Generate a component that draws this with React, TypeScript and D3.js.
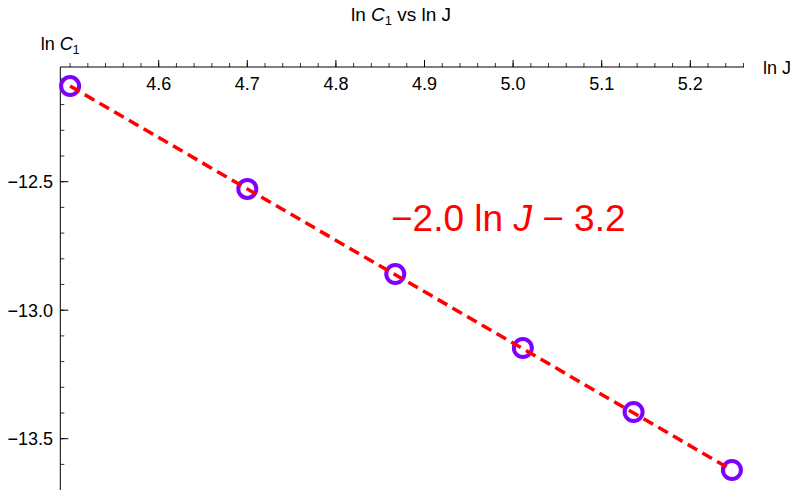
import React from 'react';
import * as d3 from 'd3';

// ln J and ln C1 values
const lnJ = [4.5, 4.7, 4.867, 5.011, 5.136, 5.247];
const lnC1 = [-12.128, -12.528, -12.859, -13.147, -13.396, -13.622];

// fitted line  ln C1 = slope * ln J + intercept
const fitSlope = -2.0;
const fitIntercept = -3.128;

const xMajor = [4.6, 4.7, 4.8, 4.9, 5.0, 5.1, 5.2];
const yMajor = [-12.5, -13.0, -13.5];

const W = 798;
const H = 494;
const FONT = '"Liberation Sans", Arial, sans-serif';

export default function App() {
    const x = d3.scaleLinear().domain([4.6, 5.2]).range([158.7, 690.3]);
    const y = d3.scaleLinear().domain([-12.5, -13.5]).range([181.7, 438.7]);

    const x0 = 60.3;
    const xEnd = 744;
    const y0 = 67;
    const yEnd = 490;

    const xMinor = d3.range(225, 264).map(i => i / 50).filter(v => x(v) <= xEnd + 0.5);
    const yMinor = d3.range(-137, -120).map(i => i / 10).filter(v => y(v) >= y0 + 4 && y(v) <= yEnd);

    const fmtY = (v: number) => '\u2212' + Math.abs(v).toFixed(1);

    const pts = lnJ.map((v, i) => [v, lnC1[i]] as [number, number]);
    const fitExt = d3.extent(lnJ) as [number, number];
    const line = d3.line<number>()
        .x(d => x(d))
        .y(d => y(fitSlope * d + fitIntercept));

    return (
        <svg width={W} height={H} style={{position: 'absolute', left: 0, top: 0, background: '#fff'}}
             fontFamily={FONT}>
            <rect width={W} height={H} fill="#fff" />
            {/* title */}
            <text x={401} y={21} textAnchor="middle" fontSize={19} fill="#000">
                ln <tspan fontStyle="italic">C</tspan><tspan fontSize={13} dy={4}>1</tspan><tspan dy={-4}> vs ln J</tspan>
            </text>

            {/* axes */}
            <line x1={x0} x2={xEnd} y1={y0} y2={y0} stroke="#000" strokeWidth={1} />
            <line x1={x0} x2={x0} y1={y0} y2={yEnd} stroke="#000" strokeWidth={1} />

            {xMinor.map(v => (
                <line key={'xm' + v} x1={x(v)} x2={x(v)} y1={y0} y2={y0 - 4} stroke="#000" strokeWidth={0.8} />
            ))}
            {xMajor.map(v => (
                <g key={'xM' + v}>
                    <line x1={x(v)} x2={x(v)} y1={y0} y2={y0 - 7} stroke="#000" strokeWidth={1} />
                    <text x={x(v)} y={90} textAnchor="middle" fontSize={18} fill="#000">{v.toFixed(1)}</text>
                </g>
            ))}
            {yMinor.map(v => (
                <line key={'ym' + v} x1={x0} x2={x0 + 4} y1={y(v)} y2={y(v)} stroke="#000" strokeWidth={0.8} />
            ))}
            {yMajor.map(v => (
                <g key={'yM' + v}>
                    <line x1={x0} x2={x0 + 8} y1={y(v)} y2={y(v)} stroke="#000" strokeWidth={1} />
                    <text x={53} y={y(v) + 6.5} textAnchor="end" fontSize={18} fill="#000">{fmtY(v)}</text>
                </g>
            ))}

            {/* axis labels */}
            <text x={60} y={50} textAnchor="middle" fontSize={18} fill="#000">
                ln <tspan fontStyle="italic">C</tspan><tspan fontSize={12} dy={4}>1</tspan>
            </text>
            <text x={763} y={74} fontSize={18} fill="#000">ln J</text>

            {/* data points */}
            {pts.map(([a, b], i) => (
                <circle key={i} cx={x(a)} cy={y(b)} r={9} fill="none" stroke="#8000ff" strokeWidth={4} />
            ))}

            {/* fit line */}
            <path d={line([fitExt[0], fitExt[1]]) || ''} fill="none" stroke="#ff0000" strokeWidth={3.5}
                  strokeDasharray="11,6" />

            {/* fit annotation */}
            <text x={391} y={231} fontSize={37} fill="#ff0000">
                {'\u2212'}2.0 ln <tspan fontStyle="italic">J</tspan> {'\u2212'} 3.2
            </text>
        </svg>
    );
}
